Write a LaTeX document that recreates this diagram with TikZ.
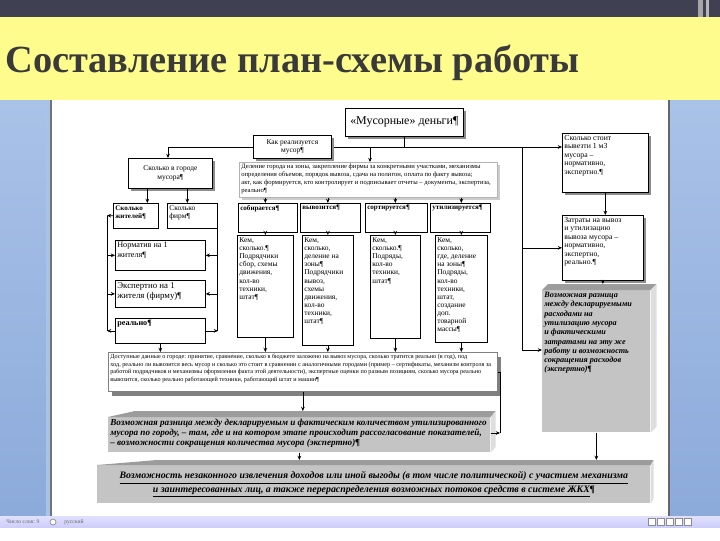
\documentclass[tikz,border=0pt]{standalone}
\usepackage{fontspec}
\setmainfont{Liberation Serif}
\usetikzlibrary{arrows.meta, calc, shadows}
\usepackage{xcolor}

\newlength{\pxu}\setlength{\pxu}{0.025cm}
\newcommand{\cell}[3]{\parbox[c][#2\pxu][t]{#1\pxu}{\raggedright #3}}
\newcommand{\ccell}[3]{\parbox[c][#2\pxu][c]{#1\pxu}{\centering #3}}

\definecolor{topbar}{HTML}{3F4152}
\definecolor{yellowband}{HTML}{FDFC8C}
\definecolor{titlegray}{HTML}{3A3A3A}
\definecolor{winblue}{HTML}{8CAADA}
\definecolor{winbluelight}{HTML}{A9C2E8}
\definecolor{gfront}{HTML}{C4C4C4}
\definecolor{gtop}{HTML}{9C9C9C}
\definecolor{gside}{HTML}{DEDEDE}

\begin{document}
\begin{tikzpicture}[
  x=0.025cm, y=-0.025cm,
  >={Stealth[length=3pt,width=2.6pt]},
  line width=0.5pt,
  box/.style={draw, fill=white, inner sep=2\pxu, anchor=north west, font=\fontsize{5.3}{5.8}\selectfont},
  sbox/.style={box, drop shadow={shadow xshift=3\pxu, shadow yshift=-3\pxu, fill=black!45, opacity=1}},
  head/.style={box, font=\bfseries\fontsize{5}{5.8}\selectfont},
  gbox/.style={fill=gfront, inner sep=2\pxu, anchor=north west, font=\bfseries\itshape\fontsize{5.8}{6.6}\selectfont},
  status/.style={inner sep=0, anchor=west, text=black!60, font=\fontsize{4}{5}\selectfont}
]
\useasboundingbox (0,0) rectangle (720,540);

% window around the page
\shade[top color=winbluelight, bottom color=winblue] (0,100) rectangle (720,516);
\fill[winbluelight] (46,100) rectangle (50,516);
\fill[white] (52,100) rectangle (668,516);
\draw[black!55, line width=1.2pt] (51,100) -- (51,516);
\draw[black!60, line width=1.2pt] (669,100) -- (669,516);
\fill[topbar] (0,0) rectangle (720,17);
\fill[black!35] (698,0) rectangle (703,17);
\fill[black!28] (706,0) rectangle (709,17);
\fill[yellowband] (0,17) rectangle (720,100);
\shade[top color=black!5!blue!12, bottom color=black!8!blue!20] (0,516) rectangle (720,528);
\fill[white] (0,528) rectangle (720,540);

% TITLE
\node[anchor=west, inner sep=0, text=titlegray, font=\bfseries\fontsize{27.3}{30}\selectfont] (title) at (5,63) {Составление план-схемы работы};

% STATUS BAR
\node[status] (words) at (6,522) {Число слов: 9};
\node[circle, draw=black!45, fill=white, inner sep=0, minimum size=6\pxu] (spell) at (53,522) {};
\node[status] (lang) at (64,522) {русский};
\foreach \i in {0,...,4}
  \node[draw=black!45, fill=white, inner sep=0, minimum size=7\pxu] (view\i) at (652+\i*9,522) {};

% top bus
\coordinate (busL) at (168,147);
\coordinate (busR) at (555,147);
\coordinate (ptap) at (370,147);
\coordinate (rjoin) at (522,147);
\coordinate (rbend) at (522,350);
\draw (busL) -- (busR);
\draw (rjoin) -- (rbend);

% TOP NODES
\node[sbox, font=\fontsize{8.5}{9}\selectfont] (money) at (345,108) {\ccell{114}{24}{«Мусорные» деньги¶}};
\node[sbox] (how) at (253,135) {\ccell{74}{19}{Как реализуется\\мусор¶}};
\node[sbox] (city) at (128,158) {\ccell{80}{26}{Сколько в городе\\мусора¶}};
\node[sbox, font=\fontsize{5.5}{6}\selectfont] (cost) at (562,133) {\cell{82}{55}{Сколько стоит\\вывезти 1 м3\\мусора –\\нормативно,\\экспертно.¶}};
\node[box, draw=black!30, font=\fontsize{4.7}{5.6}\selectfont,
  drop shadow={shadow xshift=3\pxu, shadow yshift=-3\pxu, fill=black!20, opacity=1}] (pertext) at (239,162)
  {\cell{254}{31}{Деление города на зоны, закрепление фирмы за конкретными участками, механизмы\\
  определения объемов, порядок вывоза, сдача на полигон, оплата по факту вывоза;\\
  акт, как формируется, кто контролирует и подписывает отчеты – документы, экспертиза,\\
  реально¶}};

% LEFT COLUMN
\node[head] (zhit) at (113,203) {\cell{41}{21}{Сколько\\жителей¶}};
\node[box] (firm) at (167,203) {\cell{46}{21}{Сколько\\фирм¶}};
\node[box, font=\fontsize{5.8}{6.6}\selectfont] (norm) at (115,240) {\cell{86}{26}{Норматив на 1\\жителя¶}};
\node[box, font=\fontsize{6.3}{7}\selectfont] (exp) at (115,280) {\cell{86}{23}{Экспертно на 1\\жителя (фирму)¶}};
\node[head, font=\bfseries\fontsize{5.8}{6.6}\selectfont] (real) at (115,318) {\cell{86}{21}{реально¶}};

% STAGES
\node[head] (sob) at (238,203) {\cell{55}{25}{собирается¶}};
\node[head] (vyv) at (300,203) {\cell{56}{25}{вывозится¶}};
\node[head] (sort) at (365,203) {\cell{58}{25}{сортируется¶}};
\node[head] (util) at (430,203) {\cell{56}{25}{утилизируется¶}};

\node[box] (c1) at (237,235) {\cell{52}{98}{Кем,\\сколько.¶\\Подрядчики\\сбор, схемы\\движения,\\кол-во\\техники,\\штат¶}};
\node[box] (c2) at (302,235) {\cell{47}{106}{Кем,\\сколько,\\деление на\\зоны¶\\Подрядчики\\вывоз,\\схемы\\движения,\\кол-во\\техники,\\штат¶}};
\node[box] (c3) at (370,235) {\cell{46}{99}{Кем,\\сколько.¶\\Подряды,\\кол-во\\техники,\\штат¶}};
\node[box] (c4) at (435,235) {\cell{48}{103}{Кем,\\сколько,\\где, деление\\на зоны¶\\Подряды,\\кол-во\\техники,\\штат,\\создание\\доп.\\товарной\\массы¶}};

% RIGHT COLUMN
\node[sbox, font=\fontsize{5.5}{6}\selectfont] (zat) at (562,215) {\cell{77}{61}{Затраты на вывоз\\и утилизацию\\вывоза мусора –\\нормативно,\\экспертно,\\реально.¶}};
\node[gbox] (rgray) at (542,290) {\cell{104}{138}{Возможная разница\\между декларируемыми\\расходами на\\утилизацию мусора\\и фактическими\\затратами на эту же\\работу и возможность\\сокращения расходов\\(экспертно)¶}};
\fill[gtop] (rgray.north west) -- ++(6,-6) -- ([shift={(6,-6)}]rgray.north east) -- (rgray.north east) -- cycle;
\fill[gside] (rgray.north east) -- ++(6,-6) -- ([shift={(6,-6)}]rgray.south east) -- (rgray.south east) -- cycle;

% SUMMARY BOXES
\node[box, draw=black!50, font=\fontsize{4.4}{5.4}\selectfont,
  drop shadow={shadow xshift=4\pxu, shadow yshift=-5\pxu, fill=black!50, opacity=1}] (bigtext) at (108,352)
  {\cell{385}{35}{Доступные данные о городе: принятие, сравнение, сколько в бюджете заложено на вывоз мусора, сколько тратится реально (в год), под\\
  ход, реально ли вывозится весь мусор и сколько это стоит в сравнении с аналогичными городами (пример – сертификаты, механизм контроля за\\
  работой подрядчиков и механизмы оформления факта этой деятельности), экспертные оценки по разным позициям, сколько мусора реально\\
  вывозится, сколько реально работающей техники, работающий штат и машин¶}};

\node[gbox, font=\bfseries\itshape\fontsize{6.5}{7}\selectfont] (gray2) at (108,417)
  {\cell{378}{31}{Возможная разница между декларируемым и фактическим количеством утилизированного\\
  мусора по городу, – там, где и на котором этапе происходит рассогласование показателей,\\
  – возможности сокращения количества мусора (экспертно)¶}};
\fill[gtop] (gray2.north west) -- ++(27,-6) -- ([shift={(5,-6)}]gray2.north east) -- (gray2.north east) -- cycle;
\fill[gside] (gray2.north east) -- ++(5,-6) -- ([shift={(5,-6)}]gray2.south east) -- (gray2.south east) -- cycle;

\node[gbox, font=\bfseries\itshape\fontsize{7}{9.5}\selectfont] (gray3) at (97,465)
  {\ccell{549}{34}{\underline{Возможность незаконного извлечения доходов или иной выгоды (в том числе политической) с участием механизма}\\
  \underline{и заинтересованных лиц, а также перераспределения возможных потоков средств в системе ЖКХ}¶}};
\fill[gtop] (gray3.north west) -- ++(60,-5) -- ([shift={(3,-5)}]gray3.north east) -- (gray3.north east) -- cycle;
\fill[gside] (gray3.north east) -- ++(3,-5) -- ([shift={(3,-5)}]gray3.south east) -- (gray3.south east) -- cycle;

% CONNECTORS
\draw (money.south) -- (money.south |- rjoin);
\draw[->] (busL) -- (busL |- city.north);
\draw[->] (ptap) -- (ptap |- pertext.north);
\draw[->] (busR) -- (cost.west |- busR);
\draw[->] (rjoin |- zat.west) -- (zat.west);
\draw[->] (rbend) -- (rbend -| rgray.west);
\draw[->] (cost.south) -- (cost.south |- zat.north);
\draw[->] (zat.south) -- ([yshift=6\pxu]zat.south |- rgray.north);

\draw[->] ([xshift=-23\pxu]city.south) -- ([xshift=-23\pxu]city.south |- zhit.north);
\draw[->] ([xshift=17\pxu]city.south) -- ([xshift=17\pxu]city.south |- firm.north);

% left bus
\coordinate (lbt) at (107,215.5);
\coordinate (lbb) at (107,331);
\draw[->] (zhit.west) -- (lbt);
\draw (lbt) -- (lbb);
\draw[->] (lbt |- norm.west) -- (norm.west);
\draw[->] (lbt |- exp.west) -- (exp.west);
\draw[->] (real.west) -- (real.west -| lbb);
% right bus
\coordinate (rbb) at (218,331);
\draw (firm.south east) -- (firm.south east |- rbb);
\draw[->] (norm.east -| rbb) -- (norm.east);
\draw[->] (exp.east -| rbb) -- (exp.east);
\draw[->] (real.east) -- (real.east -| rbb);
\draw[->] (real.south) -- (real.south |- bigtext.north);

\foreach \h/\c in {sob/c1, vyv/c2, sort/c3, util/c4} {
  \draw[->] (\c.north |- pertext.south) -- (\c.north |- \h.north);
  \draw[->] (\c.north |- \h.south) -- (\c.north);
  \draw[->] (\c.south) -- (\c.south |- bigtext.north);
}

\coordinate (g2tap) at (500,433);
\draw (bigtext.east) -| (g2tap);
\draw[->] (gray2.east |- g2tap) -- (g2tap);
\draw[->] (bigtext.south) -- ([yshift=6\pxu]bigtext.south |- gray2.north);
\draw[->] (gray2.south) -- ([yshift=5\pxu]gray2.south |- gray3.north);
\draw[->] (rgray.south) -- ([yshift=5\pxu]rgray.south |- gray3.north);

\end{tikzpicture}
\end{document}
